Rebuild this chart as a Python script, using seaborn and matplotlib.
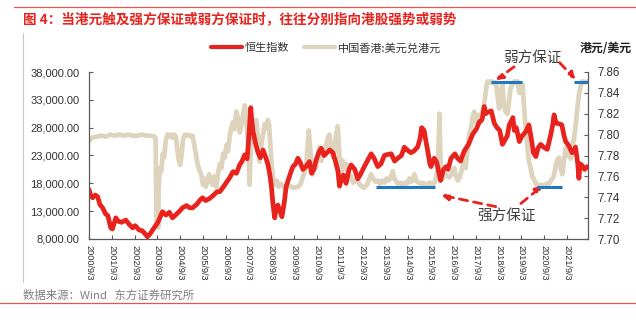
import numpy as np
import pandas as pd
import matplotlib
matplotlib.use("Agg")
import matplotlib.pyplot as plt
import seaborn as sns

# ---------------- data ----------------
hsi_t = [2000.67, 2000.75, 2000.83, 2000.95, 2001.05, 2001.15, 2001.27, 2001.40, 2001.50, 2001.63,
         2001.70, 2001.85, 2001.95, 2002.10, 2002.29, 2002.40, 2002.59, 2002.70, 2002.88, 2003.00,
         2003.10, 2003.24, 2003.35, 2003.53, 2003.70, 2003.90, 2004.05, 2004.20, 2004.34, 2004.50,
         2004.65, 2004.78, 2004.95, 2005.10, 2005.22, 2005.40, 2005.55, 2005.66, 2005.80, 2005.98,
         2006.15, 2006.30, 2006.42, 2006.60, 2006.85, 2007.00, 2007.15, 2007.29, 2007.40, 2007.51,
         2007.62, 2007.68, 2007.78, 2007.83, 2007.88, 2008.00, 2008.10, 2008.20, 2008.32, 2008.45,
         2008.54, 2008.62, 2008.68, 2008.75, 2008.83, 2008.90, 2008.97, 2009.05, 2009.15, 2009.25,
         2009.34, 2009.50, 2009.63, 2009.75, 2009.85, 2009.95, 2010.07, 2010.20, 2010.36, 2010.45,
         2010.55, 2010.66, 2010.80, 2010.88, 2011.00, 2011.10, 2011.25, 2011.39, 2011.50, 2011.61,
         2011.68, 2011.75, 2011.85, 2011.97, 2012.10, 2012.19, 2012.35, 2012.48, 2012.60, 2012.77,
         2012.90, 2013.07, 2013.20, 2013.36, 2013.50, 2013.65, 2013.80, 2013.95, 2014.10, 2014.24,
         2014.40, 2014.53, 2014.65, 2014.82, 2014.95, 2015.11, 2015.22, 2015.29, 2015.40, 2015.48,
         2015.55, 2015.65, 2015.70, 2015.84, 2015.95, 2016.07, 2016.12, 2016.25, 2016.36, 2016.45,
         2016.58, 2016.75, 2016.87, 2017.00, 2017.16, 2017.35, 2017.53, 2017.70, 2017.82, 2017.95,
         2018.04, 2018.10, 2018.20, 2018.35, 2018.48, 2018.60, 2018.72, 2018.84, 2018.95, 2019.05,
         2019.14, 2019.30, 2019.36, 2019.45, 2019.58, 2019.70, 2019.87, 2020.00, 2020.09, 2020.20,
         2020.31, 2020.40, 2020.52, 2020.65, 2020.81, 2020.95, 2021.05, 2021.11, 2021.20, 2021.33,
         2021.45, 2021.55, 2021.62, 2021.75, 2021.90, 2021.98, 2022.05, 2022.15, 2022.20, 2022.25,
         2022.35, 2022.45, 2022.57]
hsi_v = [16900, 15800, 15400, 15900, 15600, 14200, 13600, 12500, 12200, 10000,
         9800, 11800, 11200, 11000, 11400, 10800, 10000, 10400, 9600, 9500,
         9100, 8400, 8900, 10000, 11000, 12900, 12300, 12800, 11800, 12400,
         13000, 13600, 14000, 13600, 13600, 14200, 15000, 15400, 14900, 15300,
         15900, 16500, 16500, 17500, 19000, 20100, 19800, 21300, 22000, 23100,
         22400, 25500, 31600, 29000, 27300, 25000, 23500, 22600, 24000, 22500,
         21300, 19500, 17700, 14500, 11800, 13500, 14100, 13200, 12000, 14500,
         17500, 19500, 21000, 21500, 22500, 21800, 20500, 21000, 21900, 19800,
         20500, 22300, 23800, 24300, 23000, 23400, 24000, 23500, 22000, 20200,
         17500, 18500, 19500, 18000, 20500, 21300, 20500, 18800, 19600, 21000,
         22000, 23300, 22500, 21000, 21500, 23000, 23200, 23300, 22000, 22500,
         23000, 24500, 24000, 23500, 23800, 24500, 26000, 28000, 27500, 25500,
         24000, 21500, 21000, 22500, 21800, 19500, 18500, 20500, 21000, 20500,
         22500, 23300, 22500, 22000, 23800, 25000, 26800, 27800, 29000, 29500,
         31800, 30500, 30800, 31000, 28800, 28000, 27500, 25000, 25800, 26500,
         28500, 29800, 27500, 28000, 25500, 26500, 27300, 28500, 26500, 23500,
         22800, 24300, 25000, 24500, 24100, 26500, 28500, 30300, 28800, 28700,
         28500, 26500, 25500, 24800, 23500, 23700, 24500, 21500, 18900, 21500,
         21200, 20500, 21000]

hkd_t = [2000.67, 2000.80, 2001.00, 2001.20, 2001.40, 2001.60, 2001.80, 2002.00, 2002.20, 2002.40,
         2002.60, 2002.80, 2003.00, 2003.20, 2003.40, 2003.55, 2003.60, 2003.62, 2003.64, 2003.67,
         2003.69, 2003.71, 2003.73, 2003.78, 2003.85, 2003.92, 2003.97, 2004.05, 2004.12, 2004.19,
         2004.28, 2004.35, 2004.42, 2004.49, 2004.56, 2004.62, 2004.68, 2004.74, 2004.80, 2004.88,
         2004.95, 2005.05, 2005.15, 2005.22, 2005.30, 2005.38, 2005.44, 2005.52, 2005.60, 2005.68,
         2005.74, 2005.80, 2005.88, 2005.95, 2006.02, 2006.10, 2006.17, 2006.27, 2006.35, 2006.42,
         2006.49, 2006.57, 2006.64, 2006.71, 2006.78, 2006.85, 2006.92, 2007.00, 2007.06, 2007.15,
         2007.22, 2007.30, 2007.37, 2007.45, 2007.52, 2007.58, 2007.63, 2007.68, 2007.73, 2007.77,
         2007.81, 2007.88, 2007.95, 2008.02, 2008.10, 2008.17, 2008.24, 2008.32, 2008.39, 2008.46,
         2008.53, 2008.58, 2008.64, 2008.70, 2008.76, 2008.83, 2008.92, 2009.00, 2009.10, 2009.25,
         2009.40, 2009.55, 2009.70, 2009.85, 2009.95, 2010.05, 2010.14, 2010.22, 2010.28, 2010.33,
         2010.38, 2010.45, 2010.51, 2010.58, 2010.65, 2010.72, 2010.80, 2010.88, 2010.95, 2011.03,
         2011.10, 2011.17, 2011.24, 2011.32, 2011.40, 2011.46, 2011.53, 2011.60, 2011.65, 2011.70,
         2011.75, 2011.82, 2011.90, 2011.97, 2012.05, 2012.12, 2012.19, 2012.28, 2012.38, 2012.48,
         2012.58, 2012.68, 2012.77, 2012.88, 2012.97, 2013.07, 2013.15, 2013.25, 2013.36, 2013.45,
         2013.55, 2013.65, 2013.75, 2013.85, 2013.95, 2014.02, 2014.08, 2014.15, 2014.24, 2014.35,
         2014.45, 2014.55, 2014.62, 2014.68, 2014.75, 2014.82, 2014.90, 2014.97, 2015.05, 2015.15,
         2015.26, 2015.35, 2015.45, 2015.55, 2015.65, 2015.75, 2015.85, 2015.92, 2016.00, 2016.05,
         2016.07, 2016.10, 2016.14, 2016.22, 2016.30, 2016.40, 2016.50, 2016.60, 2016.73, 2016.80,
         2016.88, 2016.95, 2017.05, 2017.16, 2017.22, 2017.30, 2017.38, 2017.45, 2017.52, 2017.60,
         2017.68, 2017.75, 2017.82, 2017.90, 2017.97, 2018.04, 2018.10, 2018.15, 2018.19, 2018.28,
         2018.36, 2018.45, 2018.55, 2018.62, 2018.70, 2018.76, 2018.84, 2018.90, 2018.97, 2019.06,
         2019.13, 2019.20, 2019.28, 2019.36, 2019.43, 2019.50, 2019.58, 2019.65, 2019.72, 2019.78,
         2019.83, 2019.87, 2019.93, 2020.01, 2020.08, 2020.15, 2020.23, 2020.32, 2020.40, 2020.50,
         2020.60, 2020.70, 2020.80, 2020.89, 2020.97, 2021.04, 2021.11, 2021.18, 2021.25, 2021.33,
         2021.40, 2021.47, 2021.55, 2021.62, 2021.70, 2021.77, 2021.84, 2021.92, 2021.98, 2022.06,
         2022.13, 2022.20, 2022.28, 2022.35, 2022.45, 2022.57]
hkd_v = [7.794, 7.797, 7.798, 7.799, 7.798, 7.800, 7.799, 7.800, 7.799, 7.800,
         7.799, 7.799, 7.800, 7.799, 7.799, 7.798, 7.796, 7.745, 7.716, 7.712,
         7.718, 7.711, 7.745, 7.768, 7.765, 7.782, 7.778, 7.795, 7.800, 7.798,
         7.800, 7.797, 7.800, 7.798, 7.785, 7.775, 7.771, 7.780, 7.795, 7.800,
         7.799, 7.800, 7.798, 7.799, 7.790, 7.780, 7.772, 7.766, 7.762, 7.752,
         7.758, 7.750, 7.756, 7.762, 7.756, 7.752, 7.760, 7.750, 7.764, 7.772,
         7.768, 7.782, 7.778, 7.790, 7.784, 7.798, 7.806, 7.812, 7.805, 7.822,
         7.815, 7.802, 7.810, 7.820, 7.828, 7.815, 7.800, 7.792, 7.752, 7.780,
         7.808, 7.805, 7.812, 7.814, 7.795, 7.774, 7.790, 7.800, 7.810, 7.806,
         7.814, 7.810, 7.790, 7.770, 7.758, 7.752, 7.756, 7.750, 7.753, 7.749,
         7.752, 7.750, 7.749, 7.750, 7.752, 7.758, 7.764, 7.770, 7.790, 7.804,
         7.790, 7.770, 7.762, 7.772, 7.768, 7.780, 7.788, 7.775, 7.785, 7.780,
         7.790, 7.797, 7.800, 7.788, 7.778, 7.784, 7.800, 7.808, 7.790, 7.770,
         7.764, 7.775, 7.768, 7.772, 7.762, 7.758, 7.760, 7.754, 7.756, 7.755,
         7.752, 7.750, 7.749, 7.752, 7.756, 7.762, 7.758, 7.755, 7.756, 7.753,
         7.756, 7.754, 7.758, 7.756, 7.760, 7.765, 7.758, 7.756, 7.753, 7.754,
         7.752, 7.754, 7.753, 7.754, 7.758, 7.755, 7.756, 7.762, 7.756, 7.754,
         7.753, 7.754, 7.752, 7.753, 7.754, 7.752, 7.754, 7.758, 7.770, 7.800,
         7.820, 7.790, 7.760, 7.758, 7.762, 7.761, 7.759, 7.762, 7.768, 7.760,
         7.756, 7.758, 7.766, 7.775, 7.768, 7.785, 7.800, 7.805, 7.815, 7.822,
         7.812, 7.818, 7.819, 7.812, 7.822, 7.830, 7.840, 7.848, 7.851, 7.850,
         7.851, 7.849, 7.850, 7.838, 7.825, 7.842, 7.848, 7.830, 7.822, 7.820,
         7.832, 7.845, 7.848, 7.851, 7.850, 7.851, 7.840, 7.849, 7.848, 7.830,
         7.815, 7.805, 7.790, 7.774, 7.768, 7.760, 7.757, 7.753, 7.751, 7.752,
         7.751, 7.752, 7.753, 7.753, 7.756, 7.758, 7.761, 7.770, 7.776, 7.778,
         7.768, 7.762, 7.775, 7.787, 7.780, 7.784, 7.777, 7.790, 7.795, 7.809,
         7.825, 7.838, 7.847, 7.851, 7.850, 7.851]

# convertibility-undertaking reference segments (start, end, level)
band_start = [2013.30, 2018.34, 2020.36, 2021.98]
band_end = [2015.89, 2019.70, 2021.46, 2022.60]
band_level = [7.75, 7.85, 7.75, 7.85]

tick_years = list(range(2000, 2022))
tick_labels = [f"{y}/9/3" for y in tick_years]
hsi_ticks = [8000, 13000, 18000, 23000, 28000, 33000, 38000]
hkd_ticks = [7.70, 7.72, 7.74, 7.76, 7.78, 7.80, 7.82, 7.84, 7.86]

title = "图 4：当港元触及强方保证或弱方保证时，往往分别指向港股强势或弱势"
source = "数据来源：Wind   东方证券研究所"
name_hsi = "恒生指数"
name_hkd = "中国香港:美元兑港元"
right_label = "港元/美元"
weak_label = "弱方保证"
strong_label = "强方保证"

# ---------------- style ----------------
sns.set_style("ticks")
CJK = ["Noto Sans CJK SC", "DejaVu Sans"]
NUM = ["Liberation Sans", "DejaVu Sans"]
plt.rcParams["font.family"] = CJK

RED = "#E8231E"
BEIGE = "#DED3BC"
BLUE = "#1F78C1"
SPINE = "#5a5a5a"

W, H = 636, 323
fig = plt.figure(figsize=(W / 100, H / 100), dpi=100)

def fx(px):
    return px / W

def fy(py):
    return 1 - py / H

ax = fig.add_axes([fx(89), fy(239), fx(588) - fx(89), fy(72) - fy(239)])
ax2 = ax.twinx()

# HKD series (right axis)
sns.lineplot(x=hkd_t, y=hkd_v, ax=ax2, color=BEIGE, linewidth=3.4, estimator=None,
             sort=False, legend=False)
# HSI series (left axis) drawn on top
sns.lineplot(x=hsi_t, y=hsi_v, ax=ax, color=RED, linewidth=3.4, estimator=None,
             sort=False, legend=False)
ax.set_zorder(ax2.get_zorder() + 1)
ax.patch.set_visible(False)

# reference segments
ax2.hlines(band_level, band_start, band_end, color=BLUE, linewidth=2.2, zorder=5)

sep3 = 245 / 365.0
xticks = [y + sep3 for y in tick_years]
ax.set_xlim(2000 + sep3, 2022.6)
ax.set_xticks(xticks)
ax.set_xticklabels(tick_labels, rotation=270, fontsize=6.6, family=NUM, color="#333333")
ax.set_ylim(8000, 38000)
ax.set_yticks(hsi_ticks)
ax.set_yticklabels([f"{v:,.2f}" for v in hsi_ticks], fontsize=8, family=NUM, color="#333333")
ax2.set_ylim(7.70, 7.86)
ax2.set_yticks(hkd_ticks)
ax2.set_yticklabels([f"{v:.2f}" for v in hkd_ticks], fontsize=8.3, family=NUM, color="#333333")
ax.set_xlabel("")
ax.set_ylabel("")
ax2.set_ylabel("")

for a in (ax, ax2):
    a.spines["top"].set_visible(False)
    for s in ("left", "right", "bottom"):
        a.spines[s].set_color(SPINE)
        a.spines[s].set_linewidth(0.9)
ax.spines["right"].set_visible(False)
ax2.spines["left"].set_visible(False)
ax2.spines["bottom"].set_visible(False)
ax.tick_params(axis="y", direction="in", length=3, color=SPINE, pad=7)
ax.tick_params(axis="x", direction="in", length=3, color=SPINE, pad=4)
ax2.tick_params(axis="y", direction="in", length=3, color=SPINE, pad=7)

# legend
handles = [ax.lines[0], ax2.lines[0]]
leg = fig.legend(handles, [name_hsi, name_hkd], loc="center left",
                 bbox_to_anchor=(fx(211), fy(48)), ncol=2, frameon=False,
                 fontsize=8, handlelength=2.8, handletextpad=0.25, columnspacing=1.3,
                 borderaxespad=0, borderpad=0)
for t in leg.get_texts():
    t.set_color("#333333")
for l in leg.get_lines():
    l.set_linewidth(3)

fig.text(fx(632), fy(48), right_label, ha="right", va="center", fontsize=8.6,
         fontweight="bold", color="#222222")

# annotations
ax2.text(2020.15, 7.874, weak_label, ha="center", va="center", fontsize=10.5,
         color="#404040", clip_on=False)
ax2.text(2019.0, 7.722, strong_label, ha="center", va="center", fontsize=10.5,
         color="#404040", clip_on=False)
arrow_kw = dict(arrowstyle="-|>", color=RED, lw=2.0, linestyle=(0, (3, 2.2)),
                mutation_scale=10, shrinkA=0, shrinkB=0)
arrows = [((2019.35, 7.865), (2018.55, 7.852)),
          ((2021.35, 7.869), (2022.05, 7.853)),
          ((2018.55, 7.731), (2016.15, 7.742)),
          ((2019.65, 7.734), (2020.60, 7.751))]
for (x0, y0), (x1, y1) in arrows:
    ax2.annotate("", xy=(x1, y1), xytext=(x0, y0), arrowprops=arrow_kw,
                 annotation_clip=False)

# title, source and frame lines
fig.text(fx(23), fy(19), title, ha="left", va="center", fontsize=9.8,
         fontweight="bold", color=RED)
fig.text(fx(23), fy(295), source, ha="left", va="center", fontsize=8.2, color="#7f7f7f")
fig.add_artist(plt.Line2D([fx(14), 1], [fy(6.7), fy(6.7)], color="#E8534B", lw=0.9))
fig.add_artist(plt.Line2D([fx(0), 1], [fy(303), fy(303)], color="#E8534B", lw=0.9))
fig.add_artist(plt.Line2D([fx(23), fx(23)], [fy(33), fy(282)], color="#c8c8c8", lw=0.8))

fig.savefig("out.png", dpi=100)
